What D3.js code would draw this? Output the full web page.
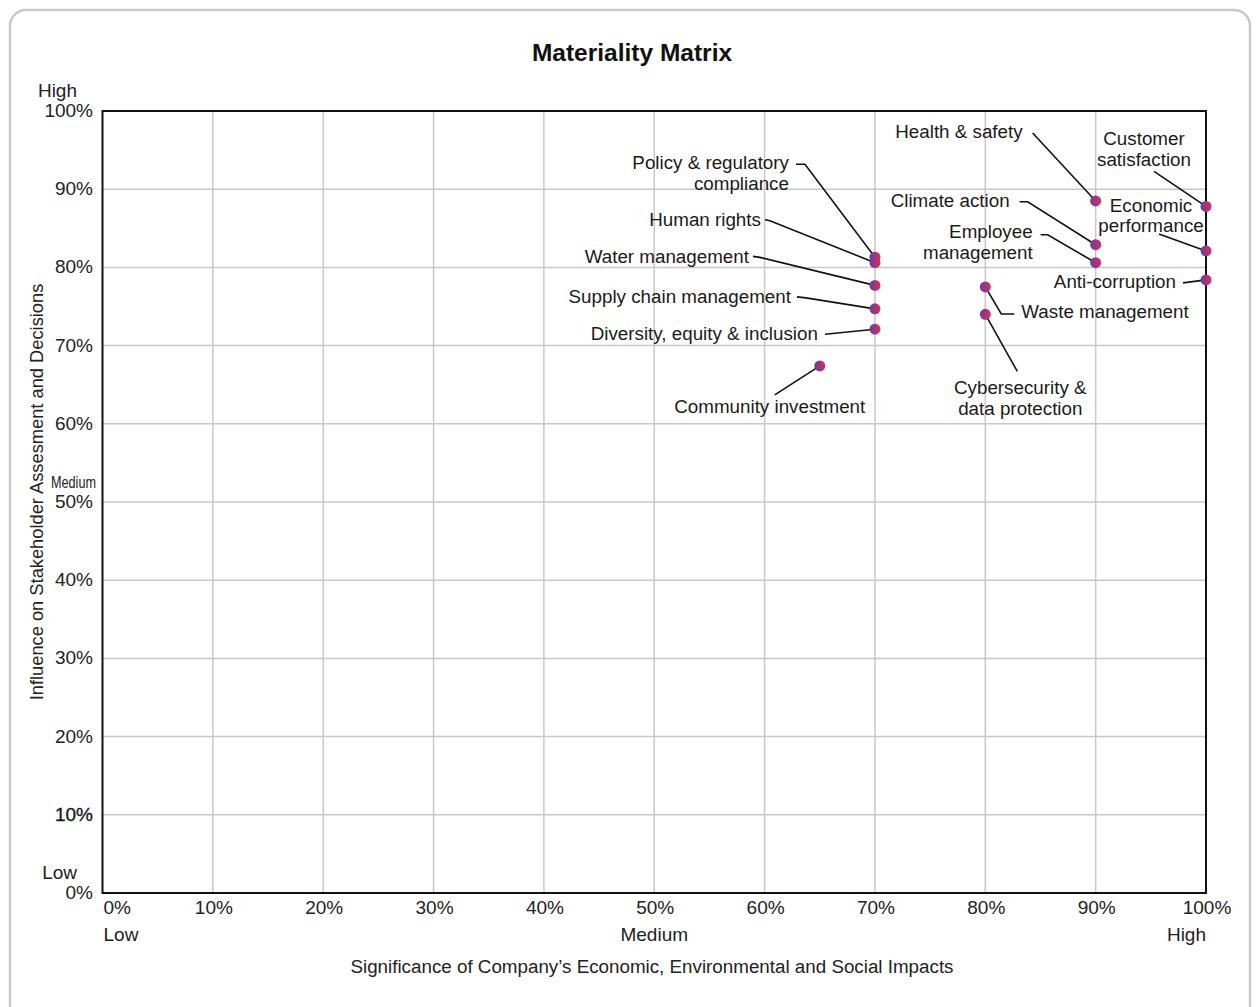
<!DOCTYPE html>
<html>
<head>
<meta charset="utf-8">
<script src="https://cdn.jsdelivr.net/npm/d3@7"></script>
<style>
  html, body { margin: 0; padding: 0; background: #fff; }
  svg { display: block; font-family: "Liberation Sans", Arial, Helvetica, sans-serif; }
</style>
</head>
<body>
<svg id="chart" width="1257" height="1007"></svg>
<script>
// Material topics and their scores (percent)
const topics = [
  "Health & safety",
  "Customer satisfaction",
  "Economic performance",
  "Anti-corruption",
  "Climate action",
  "Employee management",
  "Waste management",
  "Cybersecurity & data protection",
  "Policy & regulatory compliance",
  "Human rights",
  "Water management",
  "Supply chain management",
  "Diversity, equity & inclusion",
  "Community investment"
];
const significance = [90, 100, 100, 100, 90, 90, 80, 80, 70, 70, 70, 70, 70, 65];
const influence    = [88.5, 87.8, 82.1, 78.4, 82.9, 80.6, 77.5, 74.0, 81.3, 80.6, 77.7, 74.7, 72.1, 67.4];

const tickValues = [0, 10, 20, 30, 40, 50, 60, 70, 80, 90, 100];
const levelLabels = ["Low", "Medium", "High"];
const levelValues = [0, 50, 100];

const titleText = "Materiality Matrix";
const xTitle = "Significance of Company\u2019s Economic, Environmental and Social Impacts";
const yTitle = "Influence on Stakeholder Assesment and Decisions";

// Label placement: text lines, anchor, offset from the dot (px), leader-line bend points (px from dot)
const labelLayout = {
  "Health & safety":               { lines: ["Health & safety"], anchor: "end", dx: -73, dy: [-63], leader: [[-63, -68]] },
  "Customer satisfaction":         { lines: ["Customer", "satisfaction"], anchor: "middle", dx: -62, dy: [-61, -40], leader: [[-52, -35]] },
  "Economic performance":          { lines: ["Economic", "performance"], anchor: "middle", dx: -55, dy: [-39, -19], leader: [[-47, -17]] },
  "Anti-corruption":               { lines: ["Anti-corruption"], anchor: "end", dx: -30, dy: [8], leader: [[-23, 3]] },
  "Climate action":                { lines: ["Climate action"], anchor: "end", dx: -86, dy: [-38], leader: [[-76, -43], [-68, -43]] },
  "Employee management":           { lines: ["Employee", "management"], anchor: "end", dx: -63, dy: [-25, -4], leader: [[-55, -28], [-48, -28]] },
  "Waste management":              { lines: ["Waste management"], anchor: "start", dx: 36, dy: [31], leader: [[29, 27], [16, 27]] },
  "Cybersecurity & data protection": { lines: ["Cybersecurity &", "data protection"], anchor: "middle", dx: 35, dy: [80, 101], leader: [[32, 57]] },
  "Policy & regulatory compliance": { lines: ["Policy & regulatory", "compliance"], anchor: "end", dx: -86, dy: [-88, -67], leader: [[-79, -93], [-70, -93]] },
  "Human rights":                  { lines: ["Human rights"], anchor: "end", dx: -114, dy: [-37], leader: [[-110, -43], [-105, -42]] },
  "Water management":              { lines: ["Water management"], anchor: "end", dx: -126, dy: [-22], leader: [[-122, -29], [-115, -28]] },
  "Supply chain management":       { lines: ["Supply chain management"], anchor: "end", dx: -84, dy: [-6], leader: [[-78, -12], [-69, -11]] },
  "Diversity, equity & inclusion": { lines: ["Diversity, equity & inclusion"], anchor: "end", dx: -57, dy: [11], leader: [[-50, 5]] },
  "Community investment":          { lines: ["Community investment"], anchor: "middle", dx: -50, dy: [47], leader: [[-45, 29]] }
};

const points = topics.map((t, i) => ({ topic: t, sig: significance[i], inf: influence[i] }));

const svg = d3.select("#chart");
const plot = { left: 102.5, right: 1206, top: 111, bottom: 893 };
const labelSize = 18.8;
const tickSize = 19;

const x = d3.scaleLinear().domain([0, 100]).range([plot.left, plot.right]);
const y = d3.scaleLinear().domain([0, 100]).range([plot.bottom, plot.top]);

// Card frame
svg.append("rect")
  .attr("x", 10).attr("y", 10)
  .attr("width", 1240).attr("height", 1020)
  .attr("rx", 16).attr("ry", 16)
  .attr("fill", "#fff")
  .attr("stroke", "#c9c9c9")
  .attr("stroke-width", 2.5);

// Gradient for dots
const defs = svg.append("defs");
const grad = defs.append("linearGradient").attr("id", "dotGrad")
  .attr("x1", "0%").attr("x2", "100%").attr("y1", "0%").attr("y2", "0%");
grad.append("stop").attr("offset", "0%").attr("stop-color", "#5546a2");
grad.append("stop").attr("offset", "100%").attr("stop-color", "#ec2458");

// Title
svg.append("text")
  .attr("x", 632).attr("y", 61)
  .attr("text-anchor", "middle")
  .attr("font-size", 24.5).attr("font-weight", "bold")
  .attr("fill", "#111")
  .text(titleText);

// Grid lines
const grid = svg.append("g").attr("stroke", "#c8c8c8").attr("stroke-width", 1.5);
grid.selectAll("line.v").data(tickValues.slice(1, -1)).join("line")
  .attr("x1", d => x(d)).attr("x2", d => x(d))
  .attr("y1", plot.top).attr("y2", plot.bottom);
grid.selectAll("line.h").data(tickValues.slice(1, -1)).join("line")
  .attr("y1", d => y(d)).attr("y2", d => y(d))
  .attr("x1", plot.left).attr("x2", plot.right);

// Plot border
svg.append("rect")
  .attr("x", plot.left).attr("y", plot.top)
  .attr("width", plot.right - plot.left).attr("height", plot.bottom - plot.top)
  .attr("fill", "none").attr("stroke", "#111").attr("stroke-width", 2);

// Y axis tick labels
const fmt = d => d + "%";
svg.append("g").selectAll("text").data(tickValues).join("text")
  .attr("x", 93).attr("y", d => y(d) + 6)
  .attr("text-anchor", "end")
  .attr("font-size", tickSize).attr("fill", "#222")
  .attr("stroke", d => d === 10 ? "#111" : "none")
  .attr("stroke-width", 0.35)
  .text(fmt);

// Y level labels
svg.append("g").selectAll("text").data(levelValues).join("text")
  .attr("x", d => d === 50 ? 96 : 77)
  .attr("y", d => y(d) - 14)
  .attr("text-anchor", "end")
  .attr("font-size", tickSize).attr("fill", "#222")
  .each(function(d, i) {
    const s = d3.select(this).text(levelLabels[i]);
    if (d === 50) s.attr("textLength", 45).attr("lengthAdjust", "spacingAndGlyphs").attr("font-size", 17);
  });

// X axis tick labels
svg.append("g").selectAll("text").data(tickValues).join("text")
  .attr("x", d => x(d) + 1)
  .attr("y", 914)
  .attr("text-anchor", d => d === 0 ? "start" : "middle")
  .attr("font-size", tickSize).attr("fill", "#222")
  .text(fmt);

// X level labels
svg.append("g").selectAll("text").data(levelValues).join("text")
  .attr("x", d => d === 0 ? x(d) + 1 : x(d))
  .attr("y", 941)
  .attr("text-anchor", d => d === 0 ? "start" : (d === 100 ? "end" : "middle"))
  .attr("font-size", tickSize).attr("fill", "#222")
  .text((d, i) => levelLabels[i]);

// Axis titles
svg.append("text")
  .attr("x", 652).attr("y", 973)
  .attr("text-anchor", "middle")
  .attr("font-size", 18.8).attr("fill", "#222")
  .text(xTitle);

svg.append("text")
  .attr("transform", `translate(43, 492) rotate(-90)`)
  .attr("text-anchor", "middle")
  .attr("font-size", 18.3).attr("fill", "#222")
  .text(yTitle);

// Leader lines
const lineGen = d3.line();
svg.append("g").selectAll("path").data(points).join("path")
  .attr("d", d => {
    const L = labelLayout[d.topic];
    const cx = x(d.sig), cy = y(d.inf);
    const pts = L.leader.map(p => [cx + p[0], cy + p[1]]);
    pts.push([cx, cy]);
    return lineGen(pts);
  })
  .attr("fill", "none").attr("stroke", "#111").attr("stroke-width", 1.6);

// Labels
const labels = svg.append("g").selectAll("text").data(points).join("text")
  .attr("font-size", labelSize).attr("fill", "#1a1a1a")
  .attr("text-anchor", d => labelLayout[d.topic].anchor);
labels.each(function(d) {
  const L = labelLayout[d.topic];
  const cx = x(d.sig), cy = y(d.inf);
  d3.select(this).selectAll("tspan").data(L.lines).join("tspan")
    .attr("x", cx + L.dx)
    .attr("y", (s, j) => cy + L.dy[j])
    .text(s => s);
});

// Dots
svg.append("g").selectAll("circle").data(points).join("circle")
  .attr("cx", d => x(d.sig)).attr("cy", d => y(d.inf))
  .attr("r", 5.5)
  .attr("fill", "url(#dotGrad)");
</script>
</body>
</html>
